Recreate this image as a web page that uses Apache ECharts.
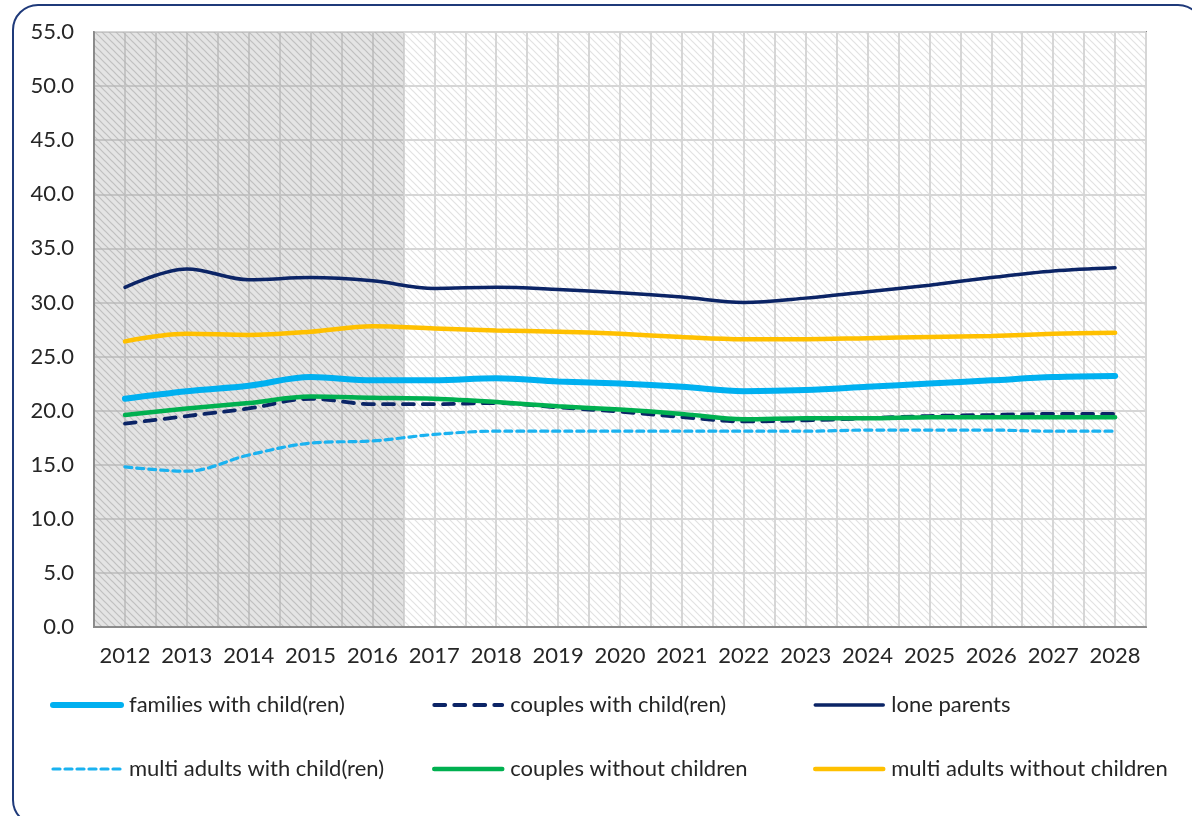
<!DOCTYPE html>
<html>
<head>
<meta charset="utf-8">
<script src="https://cdn.jsdelivr.net/npm/echarts@6/dist/echarts.min.js"></script>
<style>
  html, body { margin: 0; padding: 0; background: #fff; overflow: hidden; }
  .frame {
    position: absolute; left: 12px; top: 4px; width: 1192px; height: 822px;
    border: 2px solid #1f3a7a; border-radius: 26px; box-sizing: border-box;
  }
  #chart { position: absolute; left: 0; top: 0; width: 1192px; height: 816px; }
</style>
</head>
<body>
<div class="frame"></div>
<div id="chart"></div>
<script>
// categories
const years = ['2012', '2013', '2014', '2015', '2016', '2017', '2018', '2019', '2020',
  '2021', '2022', '2023', '2024', '2025', '2026', '2027', '2028'];
// years in the shaded (observed) band
const shadedYears = ['2012', '2013', '2014', '2015', '2016'];
const yTicks = { min: 0, max: 55, step: 5 };

// series values
const families = [21.1, 21.8, 22.3, 23.1, 22.8, 22.8, 23.0, 22.7, 22.5, 22.2, 21.8, 21.9, 22.2, 22.5, 22.8, 23.1, 23.2];
const couplesWith = [18.8, 19.5, 20.2, 21.1, 20.6, 20.6, 20.7, 20.3, 19.9, 19.4, 19.0, 19.1, 19.3, 19.5, 19.6, 19.7, 19.7];
const loneParents = [31.4, 33.1, 32.1, 32.3, 32.0, 31.3, 31.4, 31.2, 30.9, 30.5, 30.0, 30.4, 31.0, 31.6, 32.3, 32.9, 33.2];
const multiWith = [14.8, 14.4, 15.9, 17.0, 17.2, 17.8, 18.1, 18.1, 18.1, 18.1, 18.1, 18.1, 18.2, 18.2, 18.2, 18.1, 18.1];
const couplesWithout = [19.6, 20.2, 20.7, 21.3, 21.2, 21.1, 20.8, 20.4, 20.1, 19.7, 19.2, 19.3, 19.3, 19.4, 19.4, 19.4, 19.4];
const multiWithout = [26.4, 27.1, 27.0, 27.3, 27.8, 27.6, 27.4, 27.3, 27.1, 26.8, 26.6, 26.6, 26.7, 26.8, 26.9, 27.1, 27.2];

// diagonal hatch pattern
function hatch(bg, line) {
  const c = document.createElement('canvas');
  c.width = 7; c.height = 7;
  const g = c.getContext('2d');
  g.fillStyle = bg;
  g.fillRect(0, 0, 7, 7);
  g.strokeStyle = line;
  g.lineWidth = 1.2;
  g.beginPath();
  g.moveTo(-1, -1); g.lineTo(8, 8);
  g.moveTo(-8, -1); g.lineTo(1, 8);
  g.moveTo(6, -1); g.lineTo(15, 8);
  g.stroke();
  return { image: c, repeat: 'repeat' };
}

const font = 'Lato, "Open Sans", sans-serif';
const chart = echarts.init(document.getElementById('chart'));

const lineSeries = (name, data, color, width, type) => ({
  name: name,
  type: 'line',
  data: data,
  smooth: 0.35,
  symbol: 'none',
  z: 5,
  lineStyle: { color: color, width: width, type: type || 'solid', cap: 'round' },
  itemStyle: { color: color }
});

const legendBase = {
  orient: 'vertical',
  top: 694,
  padding: 0,
  itemWidth: 68,
  itemHeight: 14,
  itemGap: 42,
  itemStyle: { opacity: 0 },
  lineStyle: { width: 'inherit' },
  textStyle: { fontFamily: font, fontSize: 22, color: '#262626', padding: [0, 0, 0, 3] }
};

chart.setOption({
  animation: false,
  grid: {
    left: 94, right: 46, top: 32, bottom: 189,
    show: true,
    backgroundColor: hatch('#ffffff', '#e2e2e2'),
    borderColor: '#8a8a8a',
    borderWidth: 2
  },
  legend: [
    Object.assign({}, legendBase, { left: 50, data: ['families with child(ren)', 'multi adults with child(ren)'] }),
    Object.assign({}, legendBase, { left: 432, data: ['couples with child(ren)', 'couples without children'] }),
    Object.assign({}, legendBase, { left: 813, data: ['lone parents', 'multi adults without children'] })
  ],
  xAxis: [
    {
      type: 'category',
      data: years,
      boundaryGap: true,
      axisLine: { lineStyle: { color: '#8a8a8a', width: 2 } },
      axisTick: { show: false },
      axisLabel: { fontFamily: font, fontSize: 22, color: '#262626', margin: 18, interval: 0 },
      splitLine: { show: true, interval: 0, lineStyle: { color: '#d6d6d6', width: 2 } }
    },
    {
      // half-category gridlines
      type: 'category',
      position: 'bottom',
      data: years.flatMap(y => [y + 'a', y + 'b']),
      boundaryGap: true,
      axisLine: { show: false },
      axisTick: { show: false },
      axisLabel: { show: false, interval: 0 },
      splitLine: { show: true, interval: 0, lineStyle: { color: '#d6d6d6', width: 2 } }
    }
  ],
  yAxis: {
    type: 'value',
    min: yTicks.min,
    max: yTicks.max,
    interval: yTicks.step,
    axisLine: { show: true, lineStyle: { color: '#8a8a8a', width: 2 } },
    axisTick: { show: false },
    axisLabel: {
      fontFamily: font, fontSize: 22, color: '#262626', margin: 20,
      formatter: v => v.toFixed(1)
    },
    splitLine: { show: true, lineStyle: { color: '#d6d6d6', width: 2 } }
  },
  series: [
    {
      name: 'shaded',
      type: 'bar',
      data: years.map(y => shadedYears.includes(y) ? yTicks.max : null),
      barWidth: '100%',
      z: 1,
      silent: true,
      itemStyle: { color: hatch('rgba(150,150,150,0.26)', 'rgba(90,90,90,0.12)') }
    },
    lineSeries('families with child(ren)', families, '#00b0f0', 6),
    lineSeries('couples with child(ren)', couplesWith, '#0b2466', 3.8, [11, 9]),
    lineSeries('lone parents', loneParents, '#0b2466', 3.5),
    lineSeries('multi adults with child(ren)', multiWith, '#1ab2f0', 3.2, [7, 5]),
    lineSeries('couples without children', couplesWithout, '#00b050', 4.5),
    lineSeries('multi adults without children', multiWithout, '#ffc000', 4.5)
  ]
});
</script>
</body>
</html>
